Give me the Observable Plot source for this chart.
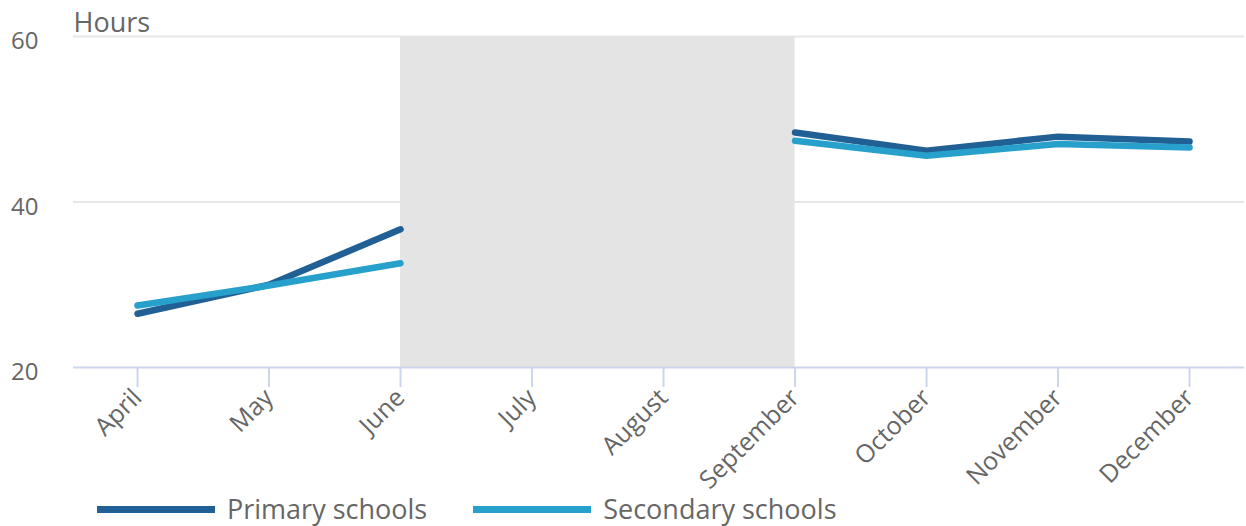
<!DOCTYPE html>
<html>
<head>
<meta charset="utf-8">
<script src="https://cdn.jsdelivr.net/npm/d3@7"></script>
<script src="https://cdn.jsdelivr.net/npm/@observablehq/plot@0.6"></script>
<style>
  html, body { margin: 0; padding: 0; background: #fff; }
  body { width: 1246px; height: 526px; overflow: hidden; font-family: "Open Sans", sans-serif; }
  #chart svg { overflow: visible; display: block; }
  #legend { display: flex; align-items: center; height: 26px; line-height: 26px; padding-left: 97px; font-size: 27px; color: #666; }
  .item { display: flex; align-items: center; margin-right: 46px; }
  .sw { width: 118px; height: 7px; margin-right: 12px; }
</style>
</head>
<body>
<div id="chart"></div>
<div id="legend"></div>
<script>
const months = ["April","May","June","July","August","September","October","November","December"];
const primary   = [26.5, 30.0, 36.7, null, null, 48.4, 46.2, 47.9, 47.3];
const secondary = [27.5, 29.9, 32.6, null, null, 47.4, 45.6, 47.0, 46.6];
const seriesNames = ["Primary schools", "Secondary schools"];
const seriesColors = ["#206095", "#27a0cc"];
const shadedFrom = "June", shadedTo = "September";
const yTicks = [20, 40, 60];
const yLabel = "Hours";

const rows = [];
months.forEach((m, i) => {
  rows.push({i, series: seriesNames[0], v: primary[i]});
});
months.forEach((m, i) => {
  rows.push({i, series: seriesNames[1], v: secondary[i]});
});
const shade = [{a: months.indexOf(shadedFrom), b: months.indexOf(shadedTo)}];

const chart = Plot.plot({
  width: 1246,
  height: 496,
  marginLeft: 73,
  marginRight: 2,
  marginTop: 36,
  marginBottom: 129,
  style: {fontFamily: "'Open Sans', sans-serif", fontSize: "24px", color: "#666", background: "#fff", overflow: "visible"},
  x: {type: "linear", domain: [-0.487, 8.418]},
  y: {domain: [20, 60]},
  color: {domain: seriesNames, range: seriesColors},
  marks: [
    Plot.gridY(yTicks.slice(1), {stroke: "#e6e6e6", strokeOpacity: 1, strokeWidth: 2}),
    Plot.rect(shade, {x1: "a", x2: "b", y1: 20, y2: 60, fill: "#e4e4e4"}),
    Plot.ruleY([20], {stroke: "#ccd6eb", strokeWidth: 2}),
    Plot.axisY({ticks: yTicks, tickSize: 0, tickPadding: 35, dy: 5, label: null, fill: "#666", fontSize: 24}),
    Plot.axisX({ticks: d3.range(months.length), tickFormat: i => months[i], tickSize: 20, stroke: "#ccd6eb", strokeOpacity: 1, strokeWidth: 2, tickRotate: -45, tickPadding: 6, label: null, fill: "#666", fontSize: 25}),
    Plot.line(rows, {x: "i", y: "v", z: "series", stroke: "series", strokeWidth: 6.5, strokeLinecap: "round", strokeLinejoin: "round", defined: d => d.v != null}),
    Plot.text([yLabel], {frameAnchor: "top-left", textAnchor: "start", lineAnchor: "bottom", dy: -5, fill: "#666", fontSize: 27})
  ]
});
document.getElementById("chart").appendChild(chart);

const legend = document.getElementById("legend");
seriesNames.forEach((n, k) => {
  const it = document.createElement("div");
  it.className = "item";
  const sw = document.createElement("div");
  sw.className = "sw";
  sw.style.background = seriesColors[k];
  const t = document.createElement("span");
  t.textContent = n;
  it.appendChild(sw); it.appendChild(t);
  legend.appendChild(it);
});
</script>
</body>
</html>
